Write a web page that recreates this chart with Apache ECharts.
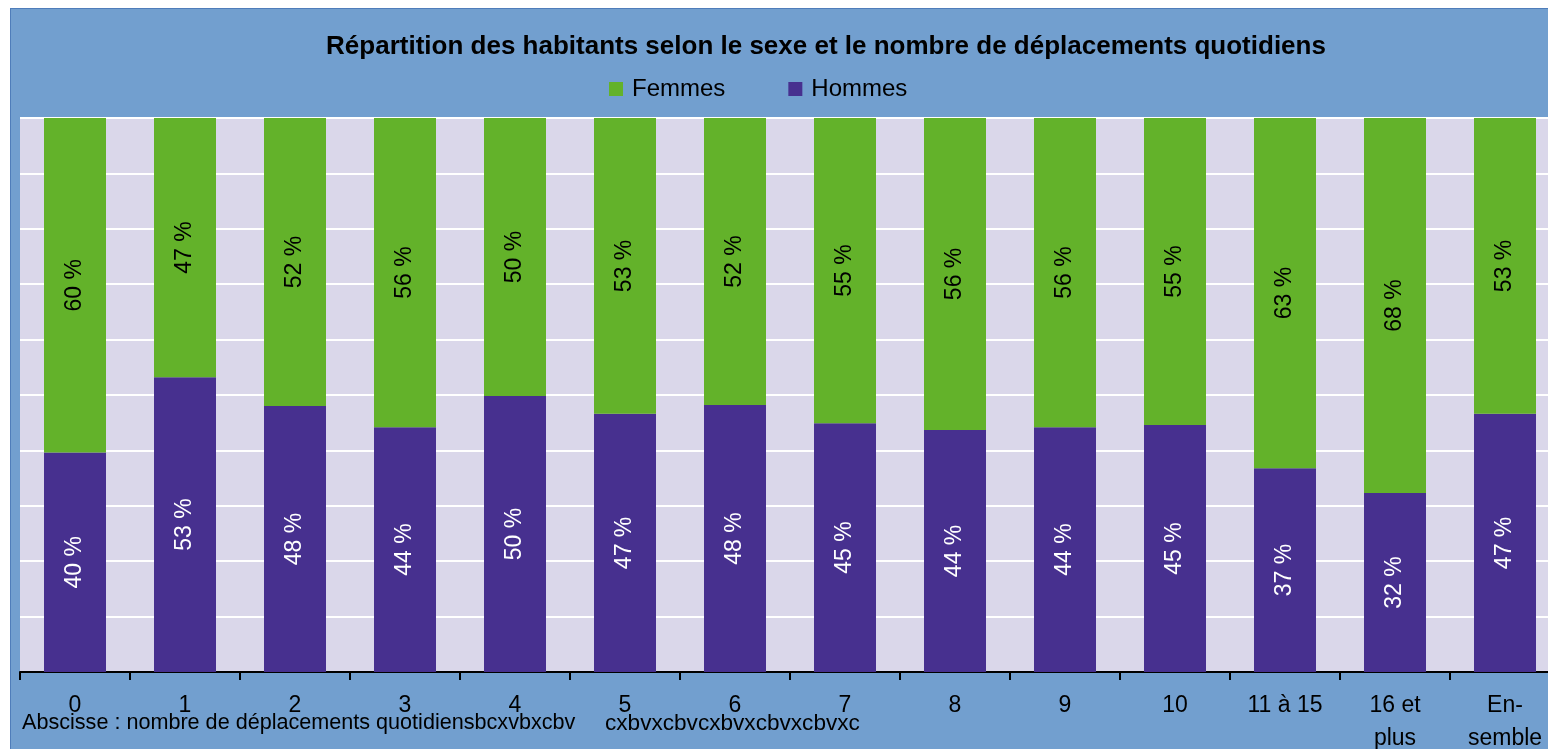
<!DOCTYPE html>
<html>
<head>
<meta charset="utf-8">
<script src="https://cdn.jsdelivr.net/npm/echarts@6/dist/echarts.min.js"></script>
<style>
html,body{margin:0;padding:0;background:#fff;overflow:hidden;width:1548px;height:749px;}
#chart{position:absolute;left:10px;top:8px;width:1630px;height:760px;background:#729fcf;border:1px solid #4f7dba;}
</style>
</head>
<body>
<div id="chart"></div>
<script>
const categories = ['0','1','2','3','4','5','6','7','8','9','10','11 à 15','16 et\nplus','En-\nsemble'];
const hommes = [39.6,53.2,48.0,44.2,49.8,46.6,48.2,44.9,43.7,44.2,44.6,36.8,32.3,46.6];
const femmes = [60.4,46.8,52.0,55.8,50.2,53.4,51.8,55.1,56.3,55.8,55.4,63.2,67.7,53.4];
const titleText = 'Répartition des habitants selon le sexe et le nombre de déplacements quotidiens';
const noteLeft = 'Abscisse : nombre de déplacements quotidiensbcxvbxcbv';
const noteRight = 'cxbvxcbvcxbvxcbvxcbvxc';

const FONT = 'Liberation Sans, Arial, sans-serif';
const chart = echarts.init(document.getElementById('chart'));
chart.setOption({
  animation: false,
  textStyle: {fontFamily: FONT},
  title: {
    text: titleText, left: 'center', top: 20,
    textStyle: {fontSize: 26, fontWeight: 'bold', color: '#000', fontFamily: FONT}
  },
  legend: {
    data: ['Femmes', 'Hommes'], left: 598, top: 68, padding: 0,
    icon: 'rect', itemWidth: 14, itemHeight: 14, itemGap: 63,
    textStyle: {fontSize: 24, color: '#000', fontFamily: FONT, padding: [0,0,0,4]}
  },
  grid: {left: 9, top: 109, width: 1540, height: 554, show: true, backgroundColor: '#dad7ea', borderWidth: 0},
  xAxis: {
    type: 'category', data: categories,
    axisLine: {lineStyle: {color: '#000', width: 2}},
    axisTick: {show: true, length: 8, lineStyle: {color: '#000', width: 2}},
    axisLabel: {fontSize: 23, color: '#000', fontFamily: FONT, lineHeight: 33, margin: 17, interval: 0}
  },
  yAxis: {
    type: 'value', min: 0, max: 100, interval: 10,
    axisLine: {show: false}, axisTick: {show: false}, axisLabel: {show: false},
    splitLine: {lineStyle: {color: '#ffffff', width: 2}}
  },
  series: [
    {
      name: 'Hommes', type: 'bar', stack: 'total', data: hommes, barWidth: 62,
      itemStyle: {color: '#47308f'},
      label: {show: true, position: 'inside', rotate: 90, fontSize: 23, color: '#fff', fontFamily: FONT,
        formatter: p => Math.round(p.value) + ' %'}
    },
    {
      name: 'Femmes', type: 'bar', stack: 'total', data: femmes, barWidth: 62,
      itemStyle: {color: '#63b22a'},
      label: {show: true, position: 'inside', rotate: 90, fontSize: 23, color: '#000', fontFamily: FONT,
        formatter: p => Math.round(p.value) + ' %'}
    }
  ],
  graphic: [
    {type: 'text', left: 11, top: 703, style: {text: noteLeft, fontSize: 21.6, fill: '#000', fontFamily: FONT}},
    {type: 'text', left: 594, top: 703, style: {text: noteRight, fontSize: 22.6, fill: '#000', fontFamily: FONT}}
  ]
});
</script>
</body>
</html>
